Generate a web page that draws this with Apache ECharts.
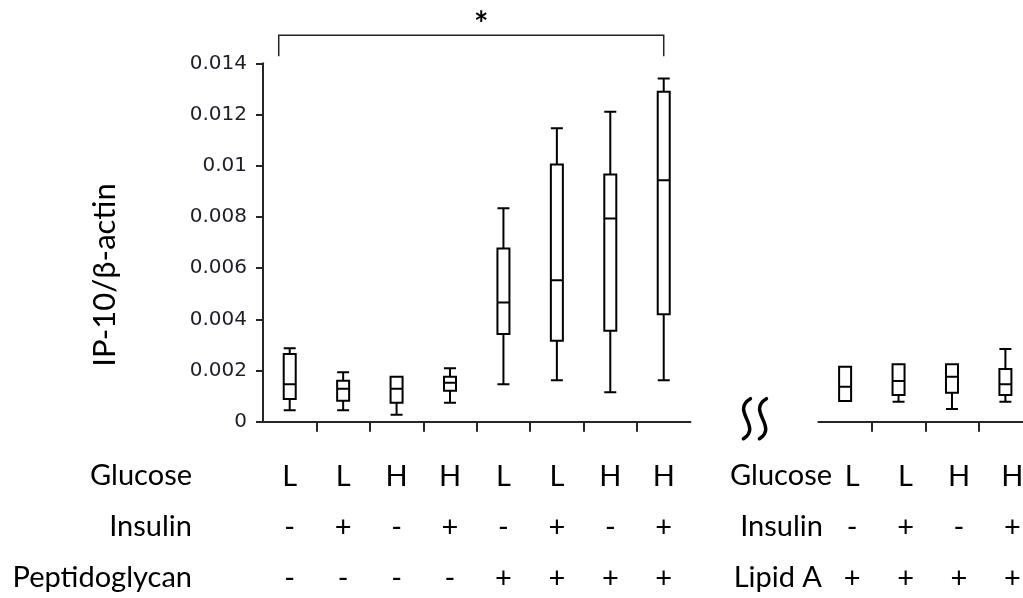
<!DOCTYPE html>
<html>
<head>
<meta charset="utf-8">
<script src="https://cdn.jsdelivr.net/npm/echarts@6/dist/echarts.min.js"></script>
<style>
  html, body { margin: 0; padding: 0; background: #fff; }
  #chart { width: 1023px; height: 598px; }
</style>
</head>
<body>
<div id="chart"></div>
<script>
// Treatment conditions, peptidoglycan panel
const glucoseLeft   = ['L', 'L', 'H', 'H', 'L', 'L', 'H', 'H'];
const insulinLeft   = ['-', '+', '-', '+', '-', '+', '-', '+'];
const peptidoglycan = ['-', '-', '-', '-', '+', '+', '+', '+'];

// Treatment conditions, lipid A panel
const glucoseRight = ['L', 'L', 'H', 'H'];
const insulinRight = ['-', '+', '-', '+'];
const lipidA       = ['+', '+', '+', '+'];

// IP-10/β-actin box statistics: [min, Q1, median, Q3, max]
const boxesLeft = [
  [0.00045, 0.00089, 0.00146, 0.00264, 0.00287],
  [0.00045, 0.00082, 0.00129, 0.00160, 0.00193],
  [0.00027, 0.00074, 0.00129, 0.00176, 0.00176],
  [0.00074, 0.00121, 0.00152, 0.00176, 0.00209],
  [0.00146, 0.00343, 0.00466, 0.00677, 0.00834],
  [0.00162, 0.00316, 0.00553, 0.01005, 0.01146],
  [0.00115, 0.00355, 0.00794, 0.00966, 0.01211],
  [0.00162, 0.00420, 0.00943, 0.01289, 0.01341]
];
const boxesRight = [
  [0.00081, 0.00081, 0.00137, 0.00215, 0.00215],
  [0.00078, 0.00104, 0.00159, 0.00224, 0.00224],
  [0.00050, 0.00113, 0.00176, 0.00224, 0.00224],
  [0.00078, 0.00104, 0.00146, 0.00206, 0.00284]
];

// Value axis range and step
const yMin = 0, yMax = 0.014, yStep = 0.002;

// Significance bracket over the peptidoglycan groups
const bracketTop = 0.0151, bracketFoot = 0.01428;
const bracketLabel = '*';

const yTitle = 'IP-10/β-actin';
const rowTitlesLeft = ['Glucose', 'Insulin', 'Peptidoglycan'];
const rowTitlesRight = ['Glucose', 'Insulin', 'Lipid A'];

const FONT = 'Lato';
const AXIS = '#262626';
const band = 53.43;

const chart = echarts.init(document.getElementById('chart'), null, { renderer: 'canvas' });

function catLabels(a, b, c) {
  return (v, i) => a[i] + '\n' + b[i] + '\n' + c[i];
}

const labelStyle = {
  fontFamily: FONT, fontSize: 29, color: '#000', lineHeight: 51, margin: 29
};

const option = {
  animation: false,
  backgroundColor: '#fff',
  grid: [
    { left: 263, top: 63.3, width: band * 8, height: 358.4, containLabel: false, outerBoundsMode: 'none' },
    { left: 818.4, top: 63.3, width: band * 4, height: 358.4, containLabel: false, outerBoundsMode: 'none' }
  ],
  xAxis: [
    {
      type: 'category', gridIndex: 0,
      data: glucoseLeft.map((_, i) => String(i)),
      axisLine: { lineStyle: { color: AXIS, width: 2 } },
      axisTick: { show: false },
      axisLabel: Object.assign({ formatter: catLabels(glucoseLeft, insulinLeft, peptidoglycan), interval: 0 }, labelStyle),
      splitLine: { show: false }
    },
    {
      type: 'value', gridIndex: 0, min: 0, max: 8, position: 'bottom',
      axisLine: { show: false },
      axisLabel: { show: false },
      splitLine: { show: false },
      axisTick: { show: true, length: 10, customValues: [1, 2, 3, 4, 5, 6, 7], lineStyle: { color: AXIS, width: 2 } }
    },
    {
      type: 'category', gridIndex: 1,
      data: glucoseRight.map((_, i) => String(i)),
      axisLine: { lineStyle: { color: AXIS, width: 2 } },
      axisTick: { show: false },
      axisLabel: Object.assign({ formatter: catLabels(glucoseRight, insulinRight, lipidA), interval: 0, padding: [0, 0, 0, 14] }, labelStyle),
      splitLine: { show: false }
    },
    {
      type: 'value', gridIndex: 1, min: 0, max: 4, position: 'bottom',
      axisLine: { show: false },
      axisLabel: { show: false },
      splitLine: { show: false },
      axisTick: { show: true, length: 10, customValues: [1, 2, 3], lineStyle: { color: AXIS, width: 2 } }
    }
  ],
  yAxis: [
    {
      type: 'value', gridIndex: 0, min: yMin, max: yMax, interval: yStep,
      axisLine: { show: true, lineStyle: { color: AXIS, width: 2 } },
      axisTick: { show: true, length: 7, lineStyle: { color: AXIS, width: 2 } },
      axisLabel: { fontFamily: 'DejaVu Sans', fontSize: 20, color: '#1e1e2a', margin: 16 },
      splitLine: { show: false }
    },
    {
      type: 'value', gridIndex: 1, min: yMin, max: yMax, interval: yStep,
      axisLine: { show: false }, axisTick: { show: false },
      axisLabel: { show: false }, splitLine: { show: false }
    }
  ],
  series: [
    {
      type: 'boxplot', xAxisIndex: 0, yAxisIndex: 0,
      data: boxesLeft, boxWidth: [12, 12],
      itemStyle: { color: '#fff', borderColor: '#000', borderWidth: 2 }
    },
    {
      type: 'boxplot', xAxisIndex: 2, yAxisIndex: 1,
      data: boxesRight, boxWidth: [12, 12],
      itemStyle: { color: '#fff', borderColor: '#000', borderWidth: 2 }
    }
  ]
};
chart.setOption(option);

// Annotations placed from the axes' own scales
const xFirst = chart.convertToPixel({ xAxisIndex: 0 }, '0') - 11;
const xLast = chart.convertToPixel({ xAxisIndex: 0 }, String(glucoseLeft.length - 1));
const yTop = chart.convertToPixel({ yAxisIndex: 0 }, bracketTop);
const yFoot = chart.convertToPixel({ yAxisIndex: 0 }, bracketFoot);
const breakX = chart.convertToPixel({ xAxisIndex: 1 }, 8) + 64;
const breakY = chart.convertToPixel({ yAxisIndex: 0 }, 0) - 23;

function rowText(text, x, y, align) {
  return {
    type: 'text', x: x, y: y,
    style: { text: text, fontFamily: FONT, fontSize: 29, fill: '#000', align: align, verticalAlign: 'middle' }
  };
}
// one stroke of the axis-break mark: a vertical wave
function squiggle(x, y) {
  return {
    type: 'bezierCurve',
    shape: { x1: x + 4, y1: y, cpx1: x - 16, cpy1: y + 12, cpx2: x + 16, cpy2: y + 28, x2: x - 3, y2: y + 40 },
    style: { stroke: '#000', lineWidth: 3.5, fill: null, lineCap: 'round' }
  };
}

const rowY = [476, 527, 578];
chart.setOption({
  graphic: [
    {
      type: 'polyline',
      shape: { points: [[xFirst, yFoot], [xFirst, yTop], [xLast, yTop], [xLast, yFoot]] },
      style: { stroke: '#222', lineWidth: 1.5, fill: null }
    },
    {
      type: 'text', x: (xFirst + xLast) / 2 + 10, y: yTop - 10,
      style: { text: bracketLabel, fontFamily: FONT, fontSize: 34, fontWeight: 'bold', fill: '#000', align: 'center', verticalAlign: 'middle' }
    },
    {
      type: 'text', x: 105, y: 275, rotation: Math.PI / 2,
      style: { text: yTitle, fontFamily: FONT, fontSize: 31, fill: '#000', align: 'center', verticalAlign: 'middle' }
    },
    rowText(rowTitlesLeft[0], 192, rowY[0], 'right'),
    rowText(rowTitlesLeft[1], 192, rowY[1], 'right'),
    rowText(rowTitlesLeft[2], 192, rowY[2], 'right'),
    rowText(rowTitlesRight[0], 832, rowY[0], 'right'),
    rowText(rowTitlesRight[1], 823, rowY[1], 'right'),
    rowText(rowTitlesRight[2], 822, rowY[2], 'right'),
    squiggle(breakX - 8, breakY),
    squiggle(breakX + 8, breakY)
  ]
});
</script>
</body>
</html>
